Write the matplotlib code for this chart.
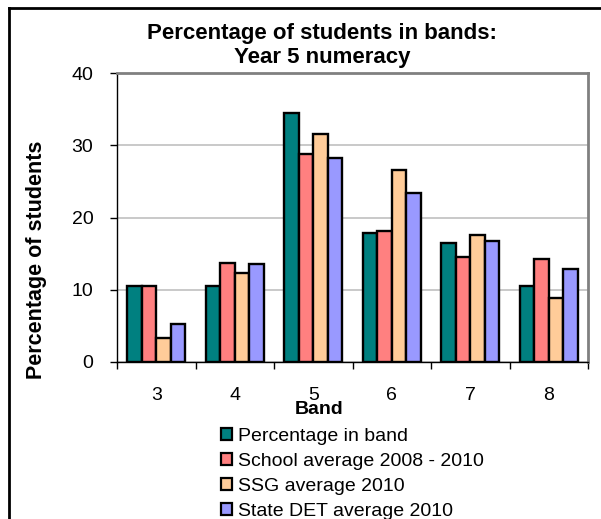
import matplotlib
matplotlib.use("Agg")
import matplotlib.pyplot as plt
import numpy as np
from matplotlib.patches import Patch
from matplotlib.lines import Line2D

plt.rcParams['font.family'] = ['Liberation Sans', 'DejaVu Sans']

bands = ["3", "4", "5", "6", "7", "8"]
series_names = ["Percentage in band", "School average 2008 - 2010",
                "SSG average 2010", "State DET average 2010"]
pct_in_band = [10.5, 10.5, 34.4, 17.9, 16.5, 10.5]
school_avg = [10.5, 13.7, 28.8, 18.2, 14.6, 14.2]
ssg_avg = [3.3, 12.3, 31.5, 26.6, 17.6, 8.8]
state_avg = [5.3, 13.5, 28.3, 23.4, 16.7, 12.9]
colors = ["#008080", "#FF8080", "#FFCC99", "#9999FF"]

W, H = 601, 519
fig = plt.figure(figsize=(W / 100, H / 100), dpi=100)

# plot area in pixel coordinates
left, right, top, bottom = 117, 588, 73, 362
ax = fig.add_axes([left / W, 1 - bottom / H, (right - left) / W, (bottom - top) / H])

x = np.arange(len(bands))
bw = 0.185
data = [pct_in_band, school_avg, ssg_avg, state_avg]
for i, (vals, c) in enumerate(zip(data, colors)):
    ax.bar(x + (i - 1.5) * bw, vals, width=bw, color=c, edgecolor="black",
           linewidth=1.7, zorder=3)

ax.set_xlim(-0.5, len(bands) - 0.5)
ax.set_ylim(0, 40)
ax.set_yticks([0, 10, 20, 30, 40])
ax.yaxis.grid(True, color="#C0C0C0", linewidth=1.2, zorder=0)
ax.set_axisbelow(True)

ax.set_xticks(np.arange(len(bands) + 1) - 0.5)
ax.set_xticklabels([])
ax.set_xticks(x, minor=True)
ax.set_xticklabels(bands, minor=True)
ax.tick_params(axis="x", which="major", direction="out", length=5, width=1, color="black")
ax.tick_params(axis="x", which="minor", length=0, pad=18, labelsize=14)
ax.tick_params(axis="y", direction="out", length=5, width=1, labelsize=14, pad=12)

for s in ("top", "right"):
    ax.spines[s].set_color("#808080")
    ax.spines[s].set_linewidth(2)
for s in ("left", "bottom"):
    ax.spines[s].set_color("black")
    ax.spines[s].set_linewidth(1)

fig.text(37 / W, 1 - 260 / H, "Percentage of students", rotation=90, ha="center",
         va="center", fontsize=15.5, fontweight="bold")

fig.text(322 / W, 1 - 33 / H, "Percentage of students in bands:", ha="center", va="center",
         fontsize=16, fontweight="bold")
fig.text(322 / W, 1 - 58 / H, "Year 5 numeracy", ha="center", va="center",
         fontsize=16, fontweight="bold")
fig.text(319 / W, 1 - 409 / H, "Band", ha="center", va="center",
         fontsize=14, fontweight="bold")

handles = [Patch(facecolor=c, edgecolor="black", linewidth=1.6) for c in colors]
fig.legend(handles, series_names, loc="upper left",
           bbox_to_anchor=(221 / W, 1 - 428 / H), frameon=False, fontsize=14,
           handlelength=0.55, handleheight=0.55, handletextpad=0.3,
           labelspacing=0.41, borderpad=0, borderaxespad=0)

# outer chart frame (left and top edges)
fig.add_artist(Line2D([9 / W, 9 / W], [0, 1 - 8 / H], transform=fig.transFigure,
                      color="black", linewidth=2))
fig.add_artist(Line2D([9 / W, 1], [1 - 8 / H, 1 - 8 / H], transform=fig.transFigure,
                      color="black", linewidth=2))

fig.savefig("out.png", dpi=100)
